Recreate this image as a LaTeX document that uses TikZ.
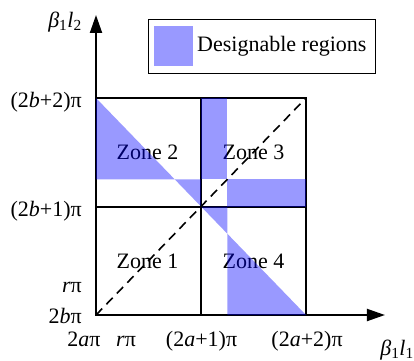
\documentclass[tikz,border=0pt]{standalone}
\usepackage{fontspec}
\setmainfont{Liberation Serif}
\usetikzlibrary{arrows.meta}
\definecolor{inkblack}{RGB}{0,0,0}
\tikzset{
  % ---- lines ------------------------------------------------------------
  frame/.style={draw=inkblack, line width=2pt},
  axis/.style={draw=inkblack, line width=2pt,
               -{Triangle[length=18pt,width=12pt]}},
  diag/.style={draw=inkblack, line width=1.6pt, dash pattern=on 9pt off 6pt},
  % ---- regions ----------------------------------------------------------
  region/.style={fill=blue, fill opacity=0.4, draw=none},
  % ---- labels -----------------------------------------------------------
  txt/.style={font=\fontsize{22}{26}\selectfont, inner sep=0pt},
  ylbl/.style={txt, anchor=base east, xshift=-14pt},
  xlbl/.style={txt, anchor=base},
  zone/.style={txt, anchor=base},
}

\begin{document}
\begin{tikzpicture}[x=105pt,y=108.5pt]
\useasboundingbox (-96pt,-45pt) rectangle (318pt,315pt);

\coordinate (O)  at (0,0);
\coordinate (xe) at (2.752,0);
\coordinate (ye) at (0,2.765);
\coordinate (tr) at (2,2);

% zone names
\node[zone] (z1) at (0.49,0.433) {Zone 1};
\node[zone] (z2) at (0.49,1.429) {Zone 2};
\node[zone] (z3) at (1.50,1.429) {Zone 3};
\node[zone] (z4) at (1.50,0.433) {Zone 4};

% frame and the two middle lines
\draw[frame] (O) rectangle (tr);
\draw[frame] (1,0) -- (1,2);
\draw[frame] (0,1) -- (2,1);

% axes
\draw[axis] (O) -- (xe);
\draw[axis] (O) -- (ye);

% designable regions (r = 0.25)
\def\rr{0.25}
\fill[region] (0,2) -- (0,1+\rr) -- (1-\rr,1+\rr) -- cycle;
\fill[region] (1-\rr,1+\rr) -- (1,1+\rr) -- (1,1) -- cycle;
\fill[region] (1,1+\rr) rectangle (1+\rr,2);
\fill[region] (1+\rr,1) rectangle (2,1+\rr);
\fill[region] (1,1) -- (1+\rr,1) -- (1+\rr,1-\rr) -- cycle;
\fill[region] (1+\rr,1-\rr) -- (1+\rr,0) -- (2,0) -- cycle;

% dashed diagonal
\draw[diag] (O) -- (tr);

% tick labels
\node[ylbl] (yb2) at (0,1.917)  {(2\textit{b}+2)π};
\node[ylbl] (yb1) at (0,0.912)  {(2\textit{b}+1)π};
\node[ylbl] (yr)  at (0,0.203)  {\textit{r}π};
\node[ylbl] (yb0) at (0,-0.074) {2\textit{b}π};
\node[xlbl] (xa0) at (-0.114,-0.286) {2\textit{a}π};
\node[xlbl] (xr)  at (0.286,-0.286)  {\textit{r}π};
\node[xlbl] (xa1) at (1.005,-0.286)  {(2\textit{a}+1)π};
\node[xlbl] (xa2) at (2.01,-0.286)   {(2\textit{a}+2)π};

% axis names
\node[txt, anchor=base] (xname) at (2.867,-0.369) {\textit{β}\textsubscript{1}\textit{l}\textsubscript{1}};
\node[txt, anchor=base] (yname) at (-0.295,2.654) {\textit{β}\textsubscript{1}\textit{l}\textsubscript{2}};

% legend
\node[draw=inkblack, line width=0.8pt, minimum width=227pt, minimum height=54pt,
      inner sep=0pt] (leg) at (1.576,2.479) {};
\fill[region] (0.552,2.295) rectangle (0.924,2.664);
\node[txt, anchor=west] (legtxt) at (0.962,2.479) {Designable regions};

\end{tikzpicture}
\end{document}
